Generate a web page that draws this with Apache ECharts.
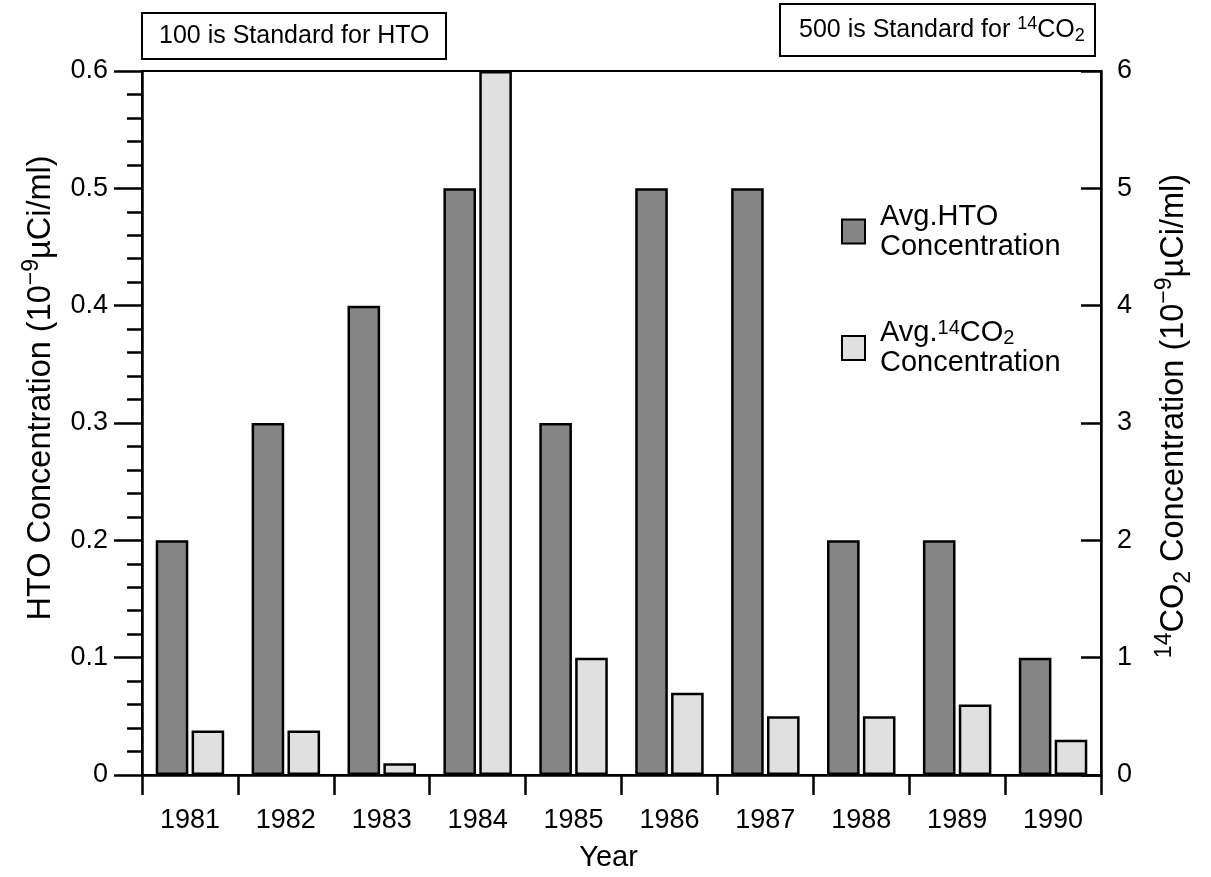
<!DOCTYPE html>
<html>
<head>
<meta charset="utf-8">
<script src="https://cdn.jsdelivr.net/npm/echarts@6/dist/echarts.min.js"></script>
<style>
html,body{margin:0;padding:0;background:#fff;}
#chart{width:1211px;height:877px;}
</style>
</head>
<body>
<div id="chart"></div>
<script>
const years = ['1981','1982','1983','1984','1985','1986','1987','1988','1989','1990'];
const htoValues = [0.2, 0.3, 0.4, 0.5, 0.3, 0.5, 0.5, 0.2, 0.2, 0.1];
const co2Values = [0.38, 0.38, 0.1, 6.0, 1.0, 0.7, 0.5, 0.5, 0.6, 0.3];
const seriesNames = ['Avg.HTO Concentration', 'Avg.14CO2 Concentration'];

const FONT = '"Liberation Sans", Arial, Helvetica, sans-serif';
const chart = echarts.init(document.getElementById('chart'), null, {renderer: 'canvas'});

function makeRich(base, small, lh) {
  return {
    n: {fontFamily: FONT, fontSize: base, fontWeight: 'normal', color: '#000', lineHeight: lh},
    sup: {fontFamily: FONT, fontSize: small, fontWeight: 'normal', color: '#000', lineHeight: small, verticalAlign: 'top'},
    sub: {fontFamily: FONT, fontSize: small, fontWeight: 'normal', color: '#000', lineHeight: small, verticalAlign: 'bottom'}
  };
}
const richBase = makeRich(25, 18, 30);
const richName = makeRich(32.5, 23, 42);
const richLegend = makeRich(29, 20, 30);

const option = {
  backgroundColor: '#fff',
  animation: false,
  title: [
    {
      text: '{n|100 is Standard for HTO}',
      left: 142, top: 10,
      padding: [11, 17, 11, 17],
      borderColor: '#000', borderWidth: 2,
      textStyle: {fontWeight: 'normal', rich: richBase}
    },
    {
      text: '{n|500 is Standard for }{sup|14}{n|CO}{sub|2}',
      left: 780, top: 4,
      padding: [11, 11, 11, 19],
      borderColor: '#000', borderWidth: 2,
      textStyle: {fontWeight: 'normal', rich: richBase}
    }
  ],
  legend: {
    orient: 'vertical',
    left: 841, top: 202,
    padding: 0,
    itemGap: 57,
    itemWidth: 23, itemHeight: 24,
    icon: 'rect',
    data: seriesNames,
    formatter: function (name) {
      if (name === seriesNames[0]) return '{n|Avg.HTO}\n{n|Concentration}';
      return '{n|Avg.}{sup|14}{n|CO}{sub|2}\n{n|Concentration}';
    },
    textStyle: {padding: [0, 0, 0, 10], rich: richLegend}
  },
  grid: {
    left: 142, right: 110, top: 71, bottom: 98,
    show: true, borderColor: '#000', borderWidth: 2, backgroundColor: 'transparent'
  },
  xAxis: {
    type: 'category',
    data: years,
    boundaryGap: true,
    name: 'Year',
    nameLocation: 'middle',
    nameGap: 68,
    nameTextStyle: {fontFamily: FONT, fontSize: 29, color: '#000', padding: [0, 26, 0, 0]},
    axisLine: {lineStyle: {color: '#000', width: 2.5}},
    axisTick: {show: true, inside: false, length: 20, interval: 0, lineStyle: {color: '#000', width: 2.5}},
    axisLabel: {interval: 0, margin: 32, fontFamily: FONT, fontSize: 27, color: '#000'},
    splitLine: {show: false}
  },
  yAxis: [
    {
      type: 'value',
      position: 'left',
      min: 0, max: 0.6, interval: 0.1,
      name: '{n|HTO Concentration (10}{sup|−9}{n|µCi/ml)}',
      nameLocation: 'middle',
      nameGap: 80,
      nameTextStyle: {rich: richName, padding: [0, 0, 0, 70]},
      axisLine: {show: true, lineStyle: {color: '#000', width: 2.5}},
      axisTick: {show: true, inside: false, length: 28, lineStyle: {color: '#000', width: 2.5}},
      minorTick: {show: true, splitNumber: 5, length: 15, lineStyle: {color: '#000', width: 2.5}},
      axisLabel: {margin: 34, fontFamily: FONT, fontSize: 27, color: '#000'},
      splitLine: {show: false}
    },
    {
      type: 'value',
      position: 'right',
      min: 0, max: 6, interval: 1,
      name: '{sup|14}{n|CO}{sub|2}{n| Concentration (10}{sup|−9}{n|µCi/ml)}',
      nameLocation: 'middle',
      nameGap: 52,
      nameTextStyle: {rich: richName, padding: [0, 0, 0, 14]},
      axisLine: {show: true, lineStyle: {color: '#000', width: 2.5}},
      axisTick: {show: true, inside: true, length: 20, lineStyle: {color: '#000', width: 2.5}},
      axisLabel: {margin: 16, fontFamily: FONT, fontSize: 27, color: '#000'},
      splitLine: {show: false}
    }
  ],
  series: [
    {
      name: seriesNames[0],
      type: 'bar',
      yAxisIndex: 0,
      data: htoValues,
      barWidth: '34%',
      barGap: '10%',
      itemStyle: {color: '#858585', borderColor: '#000', borderWidth: 2.5}
    },
    {
      name: seriesNames[1],
      type: 'bar',
      yAxisIndex: 1,
      data: co2Values,
      barWidth: '34%',
      barGap: '10%',
      itemStyle: {color: '#e0e0e0', borderColor: '#000', borderWidth: 2.5}
    }
  ]
};
chart.setOption(option);
</script>
</body>
</html>
